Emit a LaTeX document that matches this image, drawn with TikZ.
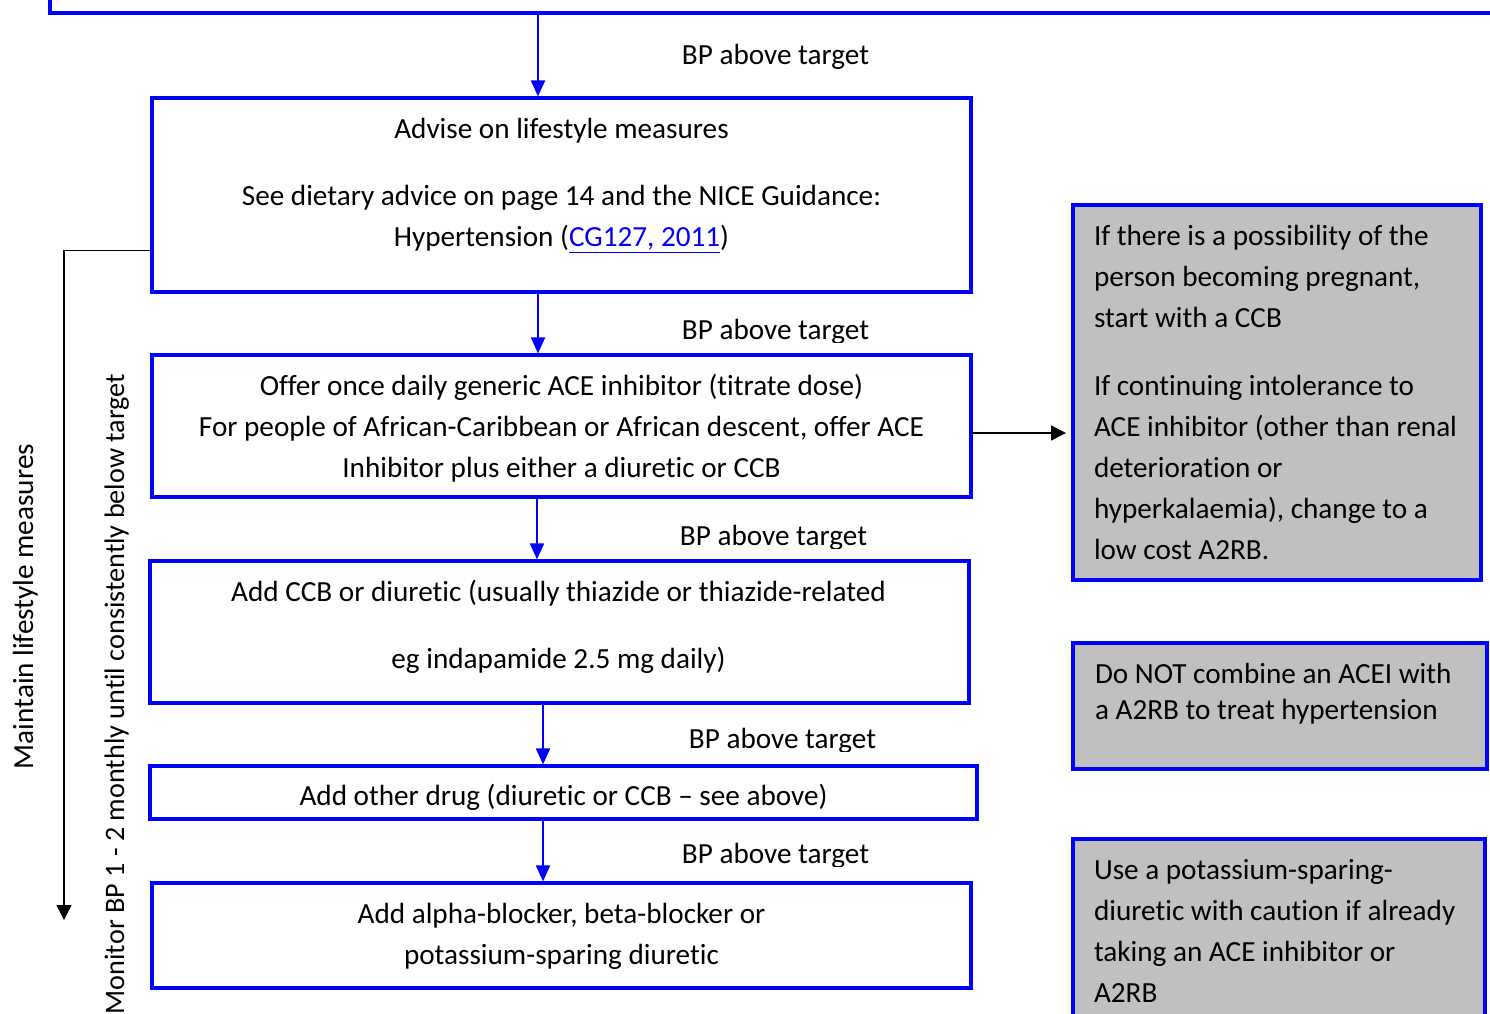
\documentclass[tikz,border=0pt]{standalone}
\usepackage{fontspec}
\setmainfont{Carlito}[Ligatures={TeX,NoCommon}]
\usetikzlibrary{arrows.meta}
\definecolor{bblue}{RGB}{0,0,255}
\definecolor{greyfill}{RGB}{192,192,192}
\definecolor{linkblue}{RGB}{0,0,255}
\begin{document}
\begin{tikzpicture}[x=0.5pt,y=-0.5pt,
  bluebox/.style={draw=bblue, line width=1.6pt, rectangle, inner sep=0pt, outer sep=0pt, anchor=north west},
  greybox/.style={bluebox, fill=greyfill},
  flow/.style={draw=bblue, line width=1pt, shorten >=0.8pt, -{Triangle[width=7pt,length=8pt]}},
  blk/.style={draw=black, line width=0.75pt, -{Triangle[width=7.5pt,length=7.5pt]}},
  txt/.style={inner sep=0pt, outer sep=0pt, font=\fontsize{14.6}{20.5}\selectfont},
]
\useasboundingbox (0,0) rectangle (1490,1013);
\clip (0,0) rectangle (1490,1013);

% boxes
\node[bluebox, minimum width=800pt, minimum height=100pt, anchor=south west] (top) at (50,13) {};
\node[bluebox, minimum width=409.5pt, minimum height=97pt] (b1) at (152,98) {};
\node[bluebox, minimum width=409.5pt, minimum height=71pt] (b2) at (152,355) {};
\node[bluebox, minimum width=409.5pt, minimum height=71pt] (b3) at (150,561) {};
\node[bluebox, minimum width=413.5pt, minimum height=26.5pt] (b4) at (150,766) {};
\node[bluebox, minimum width=409.5pt, minimum height=52.5pt] (b5) at (152,883) {};
\node[greybox, minimum width=204pt, minimum height=187.5pt] (ga) at (1073,205) {};
\node[greybox, minimum width=207pt, minimum height=63pt] (gb) at (1073,643) {};
\node[greybox, minimum width=206pt, minimum height=130.5pt] (gc) at (1073,839) {};

% box texts
\node[txt, anchor=north, align=center] (t1) at (561.5,109.3) {\strut Advise on lifestyle measures\\[13pt]\strut See dietary advice on page 14 and the NICE Guidance:\\\strut Hypertension ({\color{linkblue}\underline{CG127, 2011}})};
\node[txt, anchor=north, align=center] (t2) at (561.5,366.3) {\strut Offer once daily generic ACE inhibitor (titrate dose)\\\strut For people of African-Caribbean or African descent, offer ACE\\\strut Inhibitor plus either a diuretic or CCB};
\node[txt, anchor=north, align=center] (t3) at (558.5,572.3) {\strut Add CCB or diuretic (usually thiazide or thiazide-related\\[13pt]\strut eg indapamide 2.5 mg daily)};
\node[txt, anchor=base] (t4) at (563.5,805) {Add other drug (diuretic or CCB – see above)};
\node[txt, anchor=north, align=center] (t5) at (561.5,894.3) {\strut Add alpha-blocker, beta-blocker or\\\strut potassium-sparing diuretic};

\node[txt, anchor=north west, align=left] (ta) at (1094,216.3) {\strut If there is a possibility of the\\\strut person becoming pregnant,\\\strut start with a CCB\\[13.5pt]\strut If continuing intolerance to\\\strut ACE inhibitor (other than renal\\\strut deterioration or\\\strut hyperkalaemia), change to a\\\strut low cost A2RB.};
\node[txt, font=\fontsize{14.6}{18}\selectfont, anchor=north west, align=left] (tb) at (1095,657.8) {\strut Do NOT combine an ACEI with\\\strut a A2RB to treat hypertension};
\node[txt, anchor=north west, align=left] (tc) at (1094,850.3) {\strut Use a potassium-sparing-\\\strut diuretic with caution if already\\\strut taking an ACE inhibitor or\\\strut A2RB};

% BP above target labels
\node[txt, anchor=base] (l1) at (775.5,64) {BP above target};
\begin{scope}
\clip (600,300) rectangle (950,342.5);
\node[txt, anchor=base] (l2) at (775.5,339) {BP above target};
\end{scope}
\begin{scope}
\clip (600,500) rectangle (950,548.5);
\node[txt, anchor=base] (l3) at (773.5,545) {BP above target};
\end{scope}
\begin{scope}
\clip (600,700) rectangle (950,751.5);
\node[txt, anchor=base] (l4) at (782.5,748) {BP above target};
\end{scope}
\begin{scope}
\clip (600,820) rectangle (950,866.5);
\node[txt, anchor=base] (l5) at (775.5,863) {BP above target};
\end{scope}

% rotated side texts
\node[txt, rotate=90, anchor=base] (maint) at (33,606.5) {Maintain lifestyle measures};
\node[txt, font=\fontsize{14.1}{20}\selectfont, rotate=90, anchor=base] (mon) at (124,694) {Monitor BP 1 - 2 monthly until consistently below target};

% flow arrows
\coordinate (c1) at (538,0);
\coordinate (c2) at (538,0);
\coordinate (c3) at (537,0);
\coordinate (c4) at (543,0);
\coordinate (c5) at (543,0);
\draw[flow] (top.south -| c1) -- (b1.north -| c1);
\draw[flow] (b1.south -| c2) -- (b2.north -| c2);
\draw[flow] (b2.south -| c3) -- (b3.north -| c3);
\draw[flow] (b3.south -| c4) -- (b4.north -| c4);
\draw[flow] (b4.south -| c5) -- (b5.north -| c5);

% black connectors
\coordinate (lturn) at (64,250.5);
\coordinate (lend) at (64,920);
\draw[blk] (b1.west |- lturn) -| (lend);
\coordinate (rarr) at (0,433);
\draw[blk, shorten >=3.5pt] (b2.east |- rarr) -- (ga.west |- rarr);
\end{tikzpicture}
\end{document}
